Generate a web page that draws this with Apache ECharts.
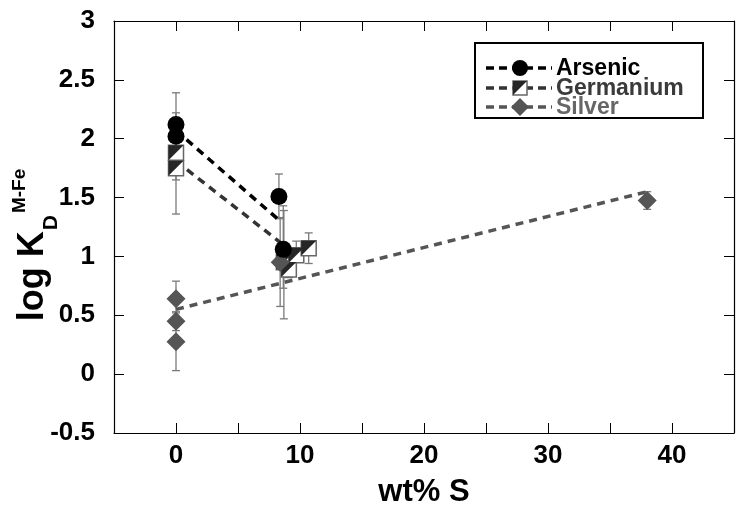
<!DOCTYPE html>
<html><head><meta charset="utf-8">
<script src="https://cdn.jsdelivr.net/npm/echarts@6/dist/echarts.min.js"></script>
<style>html,body{margin:0;padding:0;background:#fff}#c{width:737px;height:513px}</style>
</head><body><div id="c"></div>
<script>
// ---- data ----
const xTicks = [0, 10, 20, 30, 40];
const yTicks = [-0.5, 0, 0.5, 1, 1.5, 2, 2.5, 3];

const arsenicX    = [0, 0, 8.3, 8.65];
const arsenicY    = [2.12, 2.02, 1.51, 1.06];
const arsenicLow  = [1.85, 1.82, 1.32, 0.73];
const arsenicHigh = [2.39, 2.22, 1.70, 1.43];

const germaniumX    = [0, 0, 8.7, 9.1, 9.7, 10.7];
const germaniumY    = [1.88, 1.75, 0.95, 0.89, 1.01, 1.07];
const germaniumLow  = [1.65, 1.36, 0.47, 0.82, 0.95, 0.94];
const germaniumHigh = [2.11, 2.14, 1.39, 0.96, 1.13, 1.20];

const silverX    = [0, 0, 0, 8.4, 38];
const silverY    = [0.64, 0.45, 0.275, 0.95, 1.475];
const silverLow  = [0.49, 0.37, 0.03, 0.575, 1.40];
const silverHigh = [0.79, 0.53, 0.52, 1.33, 1.55];

const arsenicFitX = [0, 8.4],  arsenicFitY = [2.07, 1.30];
const germaniumFitX = [0, 8.4], germaniumFitY = [1.81, 1.12];
const silverFitX = [0, 38],    silverFitY = [0.55, 1.55];

const seriesNames = ['Arsenic', 'Germanium', 'Silver'];

// ---- helpers ----
const FONT = "'Liberation Sans', Arial, sans-serif";
const zip = (a, b) => a.map((v, i) => [v, b[i]]);
const zip3 = (a, b, c) => a.map((v, i) => [v, b[i], c[i]]);
const colAs = '#000000', colGe = '#333333', colAg = '#555555';
const triPath = 'path://M0,0L1,0L0,1Z';

function errRender(params, api) {
  const x = api.value(0), lo = api.value(1), hi = api.value(2);
  const a = api.coord([x, lo]), b = api.coord([x, hi]);
  const hw = 4;
  const st = {stroke: '#7a7a7a', lineWidth: 1.3};
  return {type: 'group', children: [
    {type: 'line', shape: {x1: a[0], y1: a[1], x2: b[0], y2: b[1]}, style: st},
    {type: 'line', shape: {x1: a[0] - hw, y1: a[1], x2: a[0] + hw, y2: a[1]}, style: st},
    {type: 'line', shape: {x1: b[0] - hw, y1: b[1], x2: b[0] + hw, y2: b[1]}, style: st}
  ]};
}
function errSeries(x, lo, hi) {
  return {type: 'custom', renderItem: errRender, data: zip3(x, lo, hi),
          encode: {x: 0, y: [1, 2]}, z: 1, silent: true};
}

const axisCommon = {
  axisLine: {show: true, onZero: false, lineStyle: {color: '#000', width: 1.2}},
  axisTick: {show: true, inside: true, length: 10, lineStyle: {color: '#000', width: 1}},
  splitLine: {show: false}
};

// measure for y-axis title
const cv = document.createElement('canvas').getContext('2d');
const F_MAIN = 36, F_SUB = 21, F_SUP = 19;
cv.font = "bold " + F_MAIN + "px " + FONT; const wMain = cv.measureText('log K').width;
cv.font = "bold " + F_SUB + "px " + FONT; const wSub = cv.measureText('D').width;
cv.font = "bold " + F_SUP + "px " + FONT; const wSup = cv.measureText('M-Fe').width;
const titleLen = wMain + wSub + 3 + wSup;
const titleStart = 245 + titleLen / 2;

const legendRows = [68, 88, 107];
const legendGraphics = [
  {type: 'rect', shape: {x: 475, y: 43, width: 228, height: 75}, style: {fill: '#fff', stroke: '#000', lineWidth: 2}, z: 100}
];
[colAs, colGe, colAg].forEach((c, i) => {
  const y = legendRows[i];
  legendGraphics.push({type: 'line', shape: {x1: 486, y1: y, x2: 552, y2: y}, style: {stroke: c, lineWidth: 3.5, lineDash: [8, 5]}, z: 101});
  legendGraphics.push({type: 'text', x: 556, y: y + 1, style: {text: seriesNames[i], font: 'bold 23px ' + FONT, fill: [colAs, '#3a3a3a', '#666'][i], verticalAlign: 'middle', textVerticalAlign: 'middle'}, z: 101});
});
legendGraphics.push({type: 'circle', shape: {cx: 520, cy: legendRows[0], r: 8}, style: {fill: colAs}, z: 102});
legendGraphics.push({type: 'rect', shape: {x: 513, y: legendRows[1] - 7, width: 14, height: 14}, style: {fill: '#fff', stroke: '#666', lineWidth: 1.5}, z: 102});
legendGraphics.push({type: 'polygon', shape: {points: [[513, legendRows[1] - 7], [527, legendRows[1] - 7], [513, legendRows[1] + 7]]}, style: {fill: '#262626'}, z: 103});
legendGraphics.push({type: 'polygon', shape: {points: [[520, legendRows[2] - 9], [529, legendRows[2]], [520, legendRows[2] + 9], [511, legendRows[2]]]}, style: {fill: colAg}, z: 102});

const yTitle = {type: 'group', x: 33, y: titleStart, rotation: Math.PI / 2, children: [
  {type: 'text', x: 0, y: 0, style: {text: 'log K', font: 'bold ' + F_MAIN + 'px ' + FONT, fill: '#000', verticalAlign: 'middle', textVerticalAlign: 'middle'}},
  {type: 'text', x: wMain + 1, y: 18, style: {text: 'D', font: 'bold ' + F_SUB + 'px ' + FONT, fill: '#000', verticalAlign: 'middle', textVerticalAlign: 'middle'}},
  {type: 'text', x: wMain + wSub + 3, y: -13, style: {text: 'M-Fe', font: 'bold ' + F_SUP + 'px ' + FONT, fill: '#000', verticalAlign: 'middle', textVerticalAlign: 'middle'}}
]};

const chart = echarts.init(document.getElementById('c'), null, {renderer: 'canvas'});
chart.setOption({
  animation: false,
  backgroundColor: '#fff',
  textStyle: {fontFamily: FONT},
  grid: {left: 114, top: 21, width: 631, height: 420, containLabel: false},
  xAxis: [
    Object.assign({type: 'value', min: -5, max: 45, interval: 5, position: 'bottom',
      name: 'wt% S', nameLocation: 'middle', nameGap: 44,
      nameTextStyle: {fontSize: 31, fontWeight: 'bold', color: '#000', fontFamily: FONT},
      axisLabel: {margin: 10, fontSize: 26, fontWeight: 'bold', color: '#000', fontFamily: FONT,
        formatter: v => xTicks.includes(v) ? String(v) : ''}}, axisCommon),
    Object.assign({type: 'value', min: -5, max: 45, interval: 5, position: 'top', axisLabel: {show: false}}, axisCommon)
  ],
  yAxis: [
    Object.assign({type: 'value', min: -0.5, max: 3, interval: 0.5, position: 'left',
      axisLabel: {margin: 19, fontSize: 26, fontWeight: 'bold', color: '#000', fontFamily: FONT,
        formatter: v => yTicks.includes(v) ? String(v) : ''}}, axisCommon),
    Object.assign({type: 'value', min: -0.5, max: 3, interval: 0.5, position: 'right', axisLabel: {show: false}}, axisCommon)
  ],
  graphic: legendGraphics.concat([yTitle]),
  series: [
    errSeries(arsenicX, arsenicLow, arsenicHigh),
    errSeries(germaniumX, germaniumLow, germaniumHigh),
    errSeries(silverX, silverLow, silverHigh),
    {type: 'line', data: zip(silverFitX, silverFitY), symbol: 'none', z: 2,
     lineStyle: {color: colAg, width: 3.5, type: [8, 6]}},
    {type: 'line', data: zip(germaniumFitX, germaniumFitY), symbol: 'none', z: 2,
     lineStyle: {color: colGe, width: 3.5, type: [8, 6]}},
    {type: 'line', data: zip(arsenicFitX, arsenicFitY), symbol: 'none', z: 2,
     lineStyle: {color: colAs, width: 3.5, type: [8, 6]}},
    {name: 'Germanium', type: 'scatter', data: zip(germaniumX, germaniumY), symbol: 'rect', symbolSize: 15, z: 3,
     itemStyle: {color: '#fff', borderColor: '#666', borderWidth: 1.5, opacity: 1}},
    {name: 'Germanium', type: 'scatter', data: zip(germaniumX, germaniumY), symbol: triPath, symbolSize: 15, z: 4,
     itemStyle: {color: '#262626', opacity: 1}},
    {name: 'Silver', type: 'scatter', data: zip(silverX, silverY), symbol: 'diamond', symbolSize: 19, z: 5,
     itemStyle: {color: colAg, opacity: 1}},
    {name: 'Arsenic', type: 'scatter', data: zip(arsenicX, arsenicY), symbol: 'circle', symbolSize: 17, z: 6,
     itemStyle: {color: colAs, opacity: 1}}
  ]
});
</script></body></html>
